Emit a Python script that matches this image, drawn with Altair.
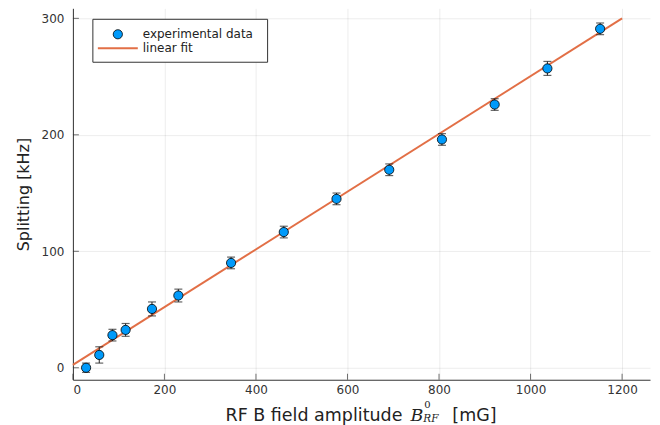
import altair as alt
import pandas as pd

# ---- data ----
field_mG = [28.8, 57.6, 86.4, 115.2, 172.8, 230.4, 345.6, 460.8, 576.0, 691.2, 806.4, 921.6, 1036.8, 1152.0]
splitting_kHz = [0.0, 11.0, 28.0, 32.5, 50.5, 62.0, 90.0, 116.5, 145.0, 170.0, 196.0, 226.0, 257.0, 291.0]
error_kHz = [4.0, 7.0, 5.0, 5.5, 6.0, 5.5, 5.0, 5.0, 5.0, 5.0, 5.0, 5.0, 6.0, 5.0]
fit_x = [0, 1200]
fit_y = [2.5, 300.0]
x_ticks = [0, 200, 400, 600, 800, 1000, 1200]
y_ticks = [0, 100, 200, 300]
legend_labels = ["experimental data", "linear fit"]

W, H = 578, 372
FONT = "DejaVu Sans"
BLUE = "#009AFA"
ORANGE = "#E26F46"

df = pd.DataFrame({"x": field_mG, "y": splitting_kHz, "e": error_kHz})
df["lo"] = df["y"] - df["e"]
df["hi"] = df["y"] + df["e"]
fit = pd.DataFrame({"x": fit_x, "y": fit_y})
xt = pd.DataFrame({"v": x_ticks})
yt = pd.DataFrame({"v": y_ticks})
one = pd.DataFrame({"a": [0]})

xscale = alt.Scale(domain=[0, 1261], nice=False, zero=False)
yscale = alt.Scale(domain=[-10.3, 308.6], nice=False, zero=False)
xaxis = alt.Axis(values=x_ticks, format="d", title=None, grid=True, ticks=False, labelPadding=5,
                 labelFontSize=12, labelColor="#333", domainColor="#333",
                 gridColor="#000", gridOpacity=0.08, labelFont=FONT)
yaxis = alt.Axis(values=y_ticks, format="d", title="Splitting [kHz]", grid=True, ticks=False, labelPadding=9,
                 labelFontSize=12, labelColor="#333", domainColor="#333",
                 gridColor="#000", gridOpacity=0.08, labelFont=FONT,
                 titleFont=FONT, titleFontSize=16, titleFontWeight="normal",
                 titleColor="#222", titlePadding=10)

X = alt.X("x:Q", scale=xscale, axis=xaxis)
Y = alt.Y("y:Q", scale=yscale, axis=yaxis)

line = alt.Chart(fit).mark_line(color=ORANGE, strokeWidth=2).encode(x=X, y=Y)

bars = alt.Chart(df).mark_rule(color="#222", strokeWidth=1).encode(
    x=X, y=alt.Y("lo:Q", scale=yscale, axis=yaxis), y2="hi:Q")
cap_lo = alt.Chart(df).mark_tick(color="#222", orient="horizontal", size=8, thickness=1.2).encode(
    x=X, y=alt.Y("lo:Q", scale=yscale, axis=yaxis))
cap_hi = alt.Chart(df).mark_tick(color="#222", orient="horizontal", size=8, thickness=1.2).encode(
    x=X, y=alt.Y("hi:Q", scale=yscale, axis=yaxis))
pts = alt.Chart(df).mark_point(filled=True, fill=BLUE, stroke="#000", strokeWidth=0.8,
                               size=85, opacity=1, shape="circle").encode(x=X, y=Y)

# inward tick marks
ytick = alt.Chart(yt).mark_tick(color="#333", orient="horizontal", size=6, thickness=1).encode(
    y=alt.Y("v:Q", scale=yscale, axis=yaxis), x=alt.value(3))
xtick = alt.Chart(xt).mark_tick(color="#333", orient="vertical", size=6, thickness=1).encode(
    x=alt.X("v:Q", scale=xscale, axis=xaxis), y=alt.value(H - 3))

# legend
leg_box = alt.Chart(one).mark_rect(fill="white", stroke="#333", strokeWidth=1).encode(
    x=alt.value(20), x2=alt.value(195), y=alt.value(11), y2=alt.value(54))
leg_pt = alt.Chart(one).mark_point(filled=True, fill=BLUE, stroke="#000", strokeWidth=0.8,
                                   size=85, opacity=1, shape="circle").encode(
    x=alt.value(45), y=alt.value(26))
leg_ln = alt.Chart(one).mark_rule(color=ORANGE, strokeWidth=2).encode(
    x=alt.value(25), x2=alt.value(65), y=alt.value(40))
leg_t1 = alt.Chart(one).mark_text(text=legend_labels[0], align="left", baseline="middle",
                                  font=FONT, fontSize=12, color="#222").encode(
    x=alt.value(70), y=alt.value(26))
leg_t2 = alt.Chart(one).mark_text(text=legend_labels[1], align="left", baseline="middle",
                                  font=FONT, fontSize=12, color="#222").encode(
    x=alt.value(70), y=alt.value(40))

# x-axis title with math
t_main = alt.Chart(one).mark_text(text="RF B field amplitude", align="right", baseline="alphabetic",
                                  font=FONT, fontSize=17.5, color="#222").encode(
    x=alt.value(330), y=alt.value(413))
t_B = alt.Chart(one).mark_text(text="B", align="left", baseline="alphabetic", font="DejaVu Serif",
                               fontStyle="italic", fontSize=17.5, color="#222").encode(
    x=alt.value(338), y=alt.value(413))
t_sup = alt.Chart(one).mark_text(text="0", align="left", baseline="alphabetic", font="DejaVu Serif",
                                 fontSize=10, color="#222").encode(
    x=alt.value(352), y=alt.value(400))
t_sub = alt.Chart(one).mark_text(text="RF", align="left", baseline="alphabetic", font="DejaVu Serif",
                                 fontStyle="italic", fontSize=10.5, color="#222").encode(
    x=alt.value(351), y=alt.value(414))
t_unit = alt.Chart(one).mark_text(text="[mG]", align="left", baseline="alphabetic",
                                  font=FONT, fontSize=17.5, color="#222").encode(
    x=alt.value(380), y=alt.value(413))

chart = alt.layer(
    line, bars, cap_lo, cap_hi, pts, ytick, xtick,
    leg_box, leg_pt, leg_ln, leg_t1, leg_t2,
    t_main, t_B, t_sup, t_sub, t_unit,
).properties(
    width=W, height=H, autosize=alt.AutoSizeParams(type="none"),
    padding={"left": 65, "top": 0, "right": 2, "bottom": 46},
).configure_view(strokeWidth=0).configure_axis(domainWidth=1)

chart.save("out.html", embed_options={"renderer": "svg", "actions": False})
